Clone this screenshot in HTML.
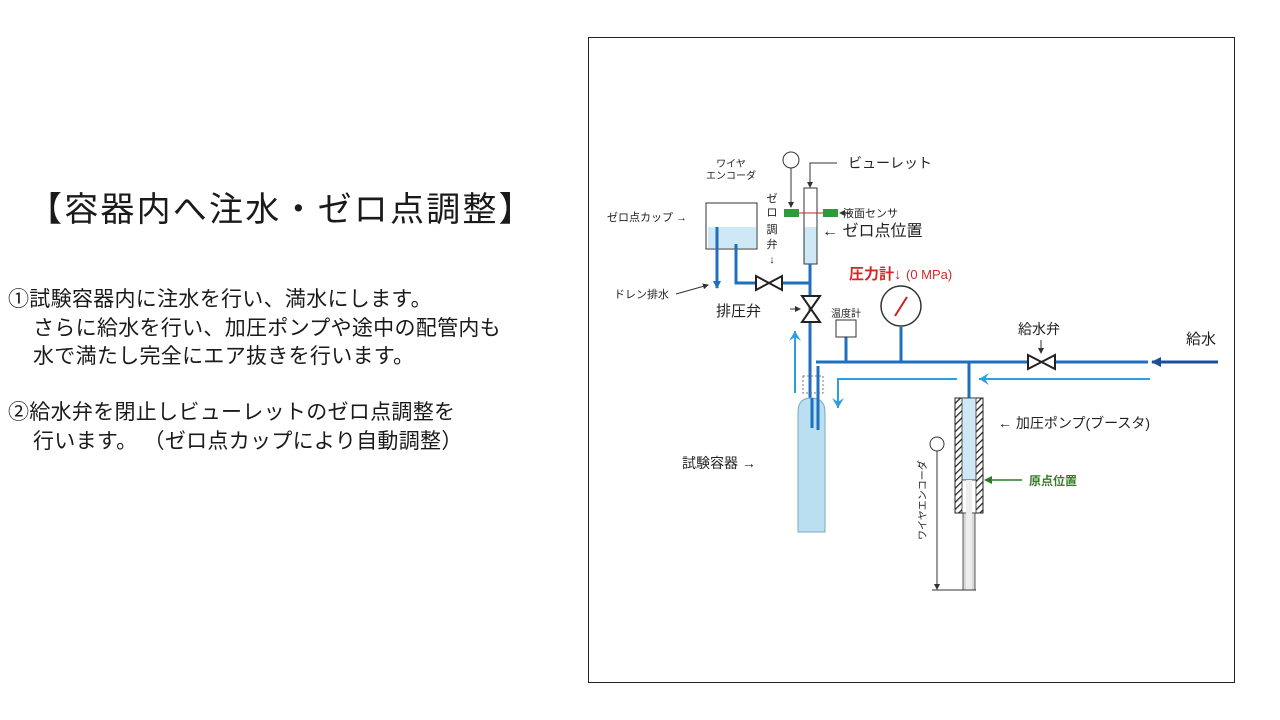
<!DOCTYPE html>
<html><head><meta charset="utf-8"><style>
body{margin:0;width:1280px;height:720px;background:#fff;position:relative;overflow:hidden;font-family:"Liberation Sans","Noto Sans CJK JP",sans-serif;color:#1a1a1a}
.t{position:absolute;white-space:nowrap;line-height:1}
</style></head><body>
<div class="t" style="left:28px;top:193px;font-size:34px;letter-spacing:2.2px">【容器内へ注水・ゼロ点調整】</div>
<div class="t" style="left:8px;top:289px;font-size:21px;letter-spacing:0.3px">①試験容器内に注水を行い、満水にします。</div>
<div class="t" style="left:33px;top:318px;font-size:21px;letter-spacing:0.3px">さらに給水を行い、加圧ポンプや途中の配管内も</div>
<div class="t" style="left:33px;top:346px;font-size:21px;letter-spacing:0.3px">水で満たし完全にエア抜きを行います。</div>
<div class="t" style="left:8px;top:402px;font-size:21px;letter-spacing:0.3px">②給水弁を閉止しビューレットのゼロ点調整を</div>
<div class="t" style="left:33px;top:431px;font-size:21px;letter-spacing:0.3px">行います。 （ゼロ点カップにより自動調整）</div>

<svg width="1280" height="720" style="position:absolute;left:0;top:0" font-family="Liberation Sans, Noto Sans CJK JP, sans-serif">
<defs>
<marker id="ab" markerWidth="8" markerHeight="8" refX="7" refY="4" orient="auto" markerUnits="userSpaceOnUse"><path d="M0,0 L8,4 L0,8 Z" fill="#1f6fbf"/></marker>
<marker id="al" markerWidth="12" markerHeight="12" refX="10" refY="6" orient="auto" markerUnits="userSpaceOnUse"><path d="M0,0 L10,6 L0,12 L4,6 Z" fill="#2e9ee0"/></marker>
<marker id="ad" markerWidth="10" markerHeight="10" refX="9" refY="5" orient="auto" markerUnits="userSpaceOnUse"><path d="M0,0 L10,5 L0,10 Z" fill="#1b4f9c"/></marker>
<marker id="ak" markerWidth="6" markerHeight="6" refX="5" refY="3" orient="auto" markerUnits="userSpaceOnUse"><path d="M0,0 L6,3 L0,6 Z" fill="#333"/></marker>
<marker id="ag" markerWidth="8" markerHeight="8" refX="7" refY="4" orient="auto" markerUnits="userSpaceOnUse"><path d="M0,0 L8,4 L0,8 Z" fill="#2a7a2a"/></marker>
<pattern id="hatch" width="5" height="5" patternUnits="userSpaceOnUse" patternTransform="rotate(45)"><rect width="5" height="5" fill="#fff"/><line x1="0" y1="0" x2="0" y2="5" stroke="#222" stroke-width="2.5"/></pattern>
</defs>
<rect x="588.5" y="37.5" width="646" height="645" fill="none" stroke="#222" stroke-width="1"/>

<rect x="708" y="227" width="48" height="21" fill="#cfe8f5"/>
<rect x="706" y="203" width="51" height="46" fill="none" stroke="#333" stroke-width="1"/>
<line x1="717" y1="227" x2="717" y2="288" stroke="#1f6fbf" stroke-width="3" marker-end="url(#ab)"/>
<polyline points="736,244 736,283 810,283" fill="none" stroke="#1f6fbf" stroke-width="3"/>
<rect x="756" y="276" width="26" height="14" fill="#fff"/>
<path d="M756,276 L756,290 L782,276 L782,290 Z" fill="#fff" stroke="#222" stroke-width="2"/>

<rect x="804" y="227" width="13" height="37" fill="#cfe8f5"/>
<rect x="804" y="188" width="13" height="76" fill="none" stroke="#333" stroke-width="1"/>
<line x1="810" y1="264" x2="810" y2="398" stroke="#1f6fbf" stroke-width="3"/>
<path d="M802,296 L820,296 L802,322 L820,322 Z" fill="#fff" stroke="#222" stroke-width="2"/>
<line x1="790" y1="309" x2="800" y2="309" stroke="#333" stroke-width="1" marker-end="url(#ak)"/>
<line x1="799" y1="213" x2="823" y2="213" stroke="#d02020" stroke-width="1"/>
<rect x="784" y="209" width="15" height="8" fill="#2f9a3a"/>
<rect x="823" y="209" width="15" height="8" fill="#2f9a3a"/>
<circle cx="791" cy="160" r="8" fill="#fff" stroke="#333"/>
<line x1="791" y1="168" x2="791" y2="207" stroke="#333" marker-end="url(#ak)"/>
<polyline points="837,163 810,163 810,187" fill="none" stroke="#333" marker-end="url(#ak)"/>
<line x1="851" y1="213" x2="840" y2="213" stroke="#333" marker-end="url(#ak)"/>

<path d="M798,532 L798,412 Q798,398 811,398 Q825,398 825,412 L825,532 Z" fill="#b9dff0" stroke="#7aa8c0" stroke-width="1"/>
<line x1="812" y1="398" x2="812" y2="428" stroke="#1f6fbf" stroke-width="3"/>
<line x1="818" y1="366" x2="818" y2="430" stroke="#1f6fbf" stroke-width="3"/>
<rect x="803" y="376" width="20" height="17" fill="none" stroke="#777" stroke-width="1" stroke-dasharray="2,2"/>

<line x1="816" y1="362" x2="1148" y2="362" stroke="#1f6fbf" stroke-width="3"/>
<line x1="1218" y1="362" x2="1152" y2="362" stroke="#1b4f9c" stroke-width="3" marker-end="url(#ad)"/>
<rect x="1028" y="355" width="27" height="14" fill="#fff"/>
<path d="M1028,355 L1028,369 L1055,355 L1055,369 Z" fill="#fff" stroke="#222" stroke-width="2"/>
<line x1="1041" y1="340" x2="1041" y2="353" stroke="#333" marker-end="url(#ak)"/>
<line x1="846" y1="337" x2="846" y2="362" stroke="#1f6fbf" stroke-width="3"/>
<rect x="836" y="320" width="20" height="17" fill="#fff" stroke="#333"/>
<line x1="901" y1="327" x2="901" y2="362" stroke="#1f6fbf" stroke-width="3"/>
<circle cx="901" cy="306" r="20" fill="#fff" stroke="#333" stroke-width="1.5"/>
<line x1="895" y1="316" x2="907" y2="297" stroke="#d02020" stroke-width="2"/>

<line x1="795" y1="393" x2="795" y2="331" stroke="#2e9ee0" stroke-width="2" marker-end="url(#al)"/>
<polyline points="957,379 838,379 838,408" fill="none" stroke="#2e9ee0" stroke-width="2" marker-end="url(#al)"/>
<line x1="1150" y1="379" x2="979" y2="379" stroke="#2e9ee0" stroke-width="2" marker-end="url(#al)"/>

<line x1="969" y1="362" x2="969" y2="398" stroke="#1f6fbf" stroke-width="3"/>
<rect x="955" y="398" width="28" height="115" fill="url(#hatch)" stroke="#222"/>
<rect x="962" y="398" width="14" height="82" fill="#cfe8f5" stroke="#333" stroke-width="0.8"/>
<rect x="962" y="480" width="14" height="33" fill="#fff" stroke="#333" stroke-width="0.8"/>
<rect x="963" y="513" width="12" height="77" fill="#d8d8d8" stroke="#333" stroke-width="0.8"/>
<rect x="966" y="480" width="6" height="110" fill="#eee"/>
<line x1="932" y1="590" x2="976" y2="590" stroke="#333"/>
<circle cx="937" cy="444" r="7" fill="#fff" stroke="#333"/>
<line x1="937" y1="451" x2="937" y2="589" stroke="#333" marker-end="url(#ak)"/>
<line x1="1022" y1="480" x2="985" y2="480" stroke="#2a7a2a" stroke-width="1.5" marker-end="url(#ag)"/>

<text x="731" y="167" font-size="10" text-anchor="middle" fill="#222">ワイヤ</text>
<text x="731" y="179" font-size="10" text-anchor="middle" fill="#222">エンコーダ</text>
<text x="607" y="221" font-size="11" fill="#222">ゼロ点カップ →</text>
<text x="614" y="298" font-size="11" fill="#222">ドレン排水</text>
<line x1="676" y1="294" x2="708" y2="285" stroke="#333" marker-end="url(#ak)"/>
<text x="716" y="316" font-size="15" fill="#222">排圧弁</text>
<text x="772" y="202" font-size="11" text-anchor="middle" fill="#222">ゼ</text>
<text x="772" y="216" font-size="11" text-anchor="middle" fill="#222">ロ</text>
<text x="772" y="233" font-size="11" text-anchor="middle" fill="#222">調</text>
<text x="772" y="248" font-size="11" text-anchor="middle" fill="#222">弁</text>
<text x="772" y="263" font-size="11" text-anchor="middle" fill="#222">↓</text>
<text x="848" y="168" font-size="14" fill="#222">ビューレット</text>
<text x="843" y="217" font-size="11" fill="#222">液面センサ</text>
<text x="822" y="236" font-size="16" fill="#222">←  ゼロ点位置</text>
<text x="849" y="279" font-size="15" fill="#d02828" font-weight="bold">圧力計↓</text>
<text x="906" y="279" font-size="13" fill="#d02828">(0 MPa)</text>
<text x="831" y="317" font-size="10" fill="#222">温度計</text>
<text x="1018" y="334" font-size="14" fill="#222">給水弁</text>
<text x="1186" y="344" font-size="15" fill="#222">給水</text>
<text x="998" y="428" font-size="14" fill="#222">←  加圧ポンプ(ブースタ)</text>
<text x="1029" y="485" font-size="12" fill="#3a7a2a" font-weight="bold">原点位置</text>
<text x="682" y="468" font-size="14" fill="#222">試験容器  →</text>
<text transform="translate(926,540) rotate(-90)" font-size="10" fill="#222">ワイヤエンコーダ</text>
</svg>
</body></html>
